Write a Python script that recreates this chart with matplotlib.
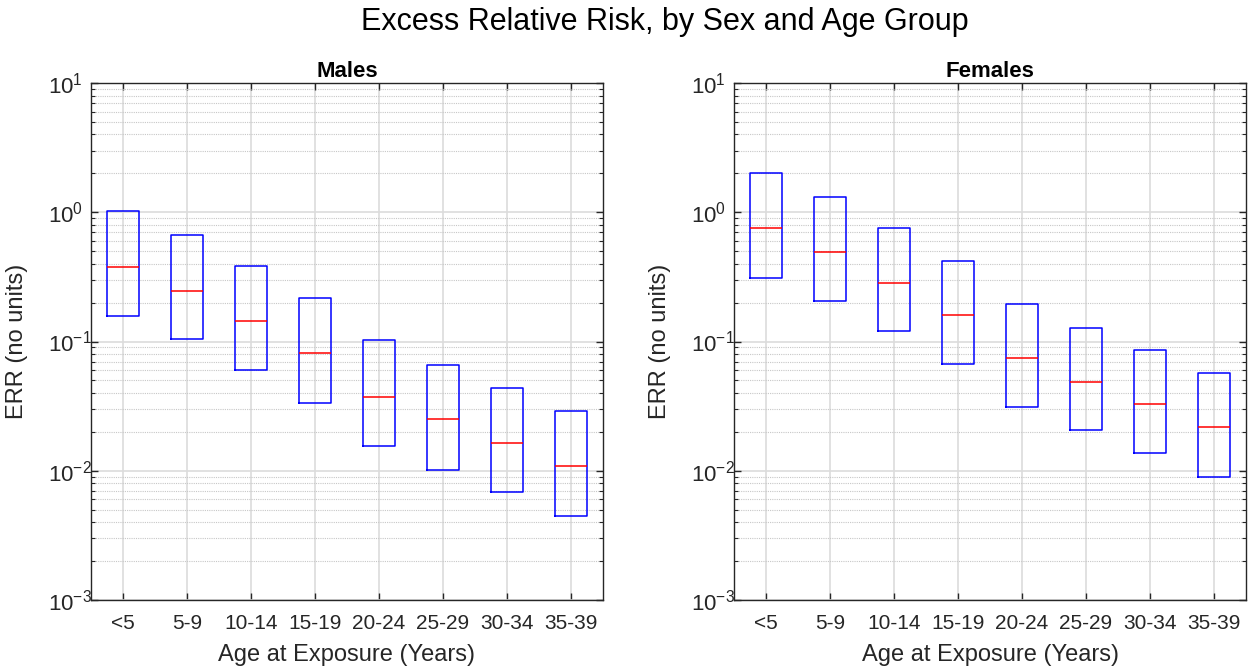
import matplotlib
matplotlib.use("Agg")
import matplotlib.pyplot as plt
from matplotlib.ticker import LogLocator, NullFormatter

plt.rcParams['font.family'] = ['Liberation Sans', 'DejaVu Sans']
plt.rcParams['axes.unicode_minus'] = False
plt.rcParams['mathtext.fontset'] = 'custom'
plt.rcParams['mathtext.rm'] = 'Liberation Sans'

age_groups = ["<5", "5-9", "10-14", "15-19", "20-24", "25-29", "30-34", "35-39"]

male_upper = [1.03, 0.67, 0.385, 0.216, 0.102, 0.066, 0.0435, 0.029]
male_median = [0.38, 0.248, 0.145, 0.081, 0.0375, 0.025, 0.0165, 0.0108]
male_lower = [0.158, 0.104, 0.060, 0.0336, 0.0156, 0.0102, 0.0068, 0.0045]

female_upper = [2.0, 1.31, 0.75, 0.42, 0.195, 0.128, 0.086, 0.057]
female_median = [0.75, 0.495, 0.286, 0.16, 0.0745, 0.049, 0.0326, 0.0219]
female_lower = [0.31, 0.205, 0.12, 0.067, 0.031, 0.0206, 0.0136, 0.009]

W, H = 1257, 668
fig = plt.figure(figsize=(W / 100, H / 100), dpi=100)

axes_px = [(91, 83, 512, 517), (734, 83, 512, 517)]
panels = [("Males", male_lower, male_median, male_upper),
          ("Females", female_lower, female_median, female_upper)]

edge = (0.15, 0.15, 0.15)
axs = []
for (x0, y0, w, h), (name, lo, med, hi) in zip(axes_px, panels):
    ax = fig.add_axes([x0 / W, 1 - (y0 + h) / H, w / W, h / H])
    axs.append(ax)
    stats = []
    for l, m, u, lab in zip(lo, med, hi, age_groups):
        stats.append(dict(q1=l, med=m, q3=u, whislo=l, whishi=u, fliers=[], label=lab))
    ax.bxp(stats, positions=range(1, len(stats) + 1), widths=0.5,
           showcaps=False, showfliers=False,
           boxprops=dict(color=(0, 0, 1), linewidth=1.1),
           whiskerprops=dict(color=(0, 0, 1), linewidth=1.1),
           medianprops=dict(color=(1, 0, 0), linewidth=1.1))
    ax.set_yscale('log')
    ax.set_ylim(1e-3, 1e1)
    ax.set_xlim(0.5, len(stats) + 0.5)
    ax.yaxis.set_major_locator(LogLocator(base=10, numticks=10))
    ax.yaxis.set_minor_locator(LogLocator(base=10, subs=range(2, 10), numticks=50))
    ax.yaxis.set_minor_formatter(NullFormatter())
    ax.set_axisbelow(True)
    ax.grid(True, which='major', axis='both', color=(0.86, 0.86, 0.86), linewidth=1.2, linestyle='-')
    ax.grid(True, which='minor', axis='y', color=(0.78, 0.78, 0.78), linewidth=0.8, linestyle=(0, (1, 1)))
    ax.tick_params(which='both', direction='in', top=True, right=True, colors=edge,
                   labelcolor=(0.15, 0.15, 0.15))
    ax.tick_params(axis='x', labelsize=15, pad=10)
    ax.tick_params(axis='y', labelsize=16, pad=31)
    ax.tick_params(which='major', length=5, width=1)
    ax.tick_params(which='minor', length=3, width=0.8)
    for s in ax.spines.values():
        s.set_color(edge)
        s.set_linewidth(1.0)
    ax.set_title(name, fontsize=16, fontweight='bold', pad=4)
    ax.set_ylabel("ERR (no units)", fontsize=17, color=(0.15, 0.15, 0.15))
    ax.yaxis.set_label_coords(-63 / w, 0.5)
    ax.set_xlabel("Age at Exposure (Years)", fontsize=17, color=(0.15, 0.15, 0.15), labelpad=8)

fig.text(665 / W, 1 - 22 / H, "Excess Relative Risk, by Sex and Age Group",
         ha='center', va='center', fontsize=22, color='black')

fig.canvas.draw()
for ax in axs:
    for t in ax.yaxis.get_major_ticks():
        t.label1.set_horizontalalignment('left')

fig.savefig("out.png", dpi=100)
